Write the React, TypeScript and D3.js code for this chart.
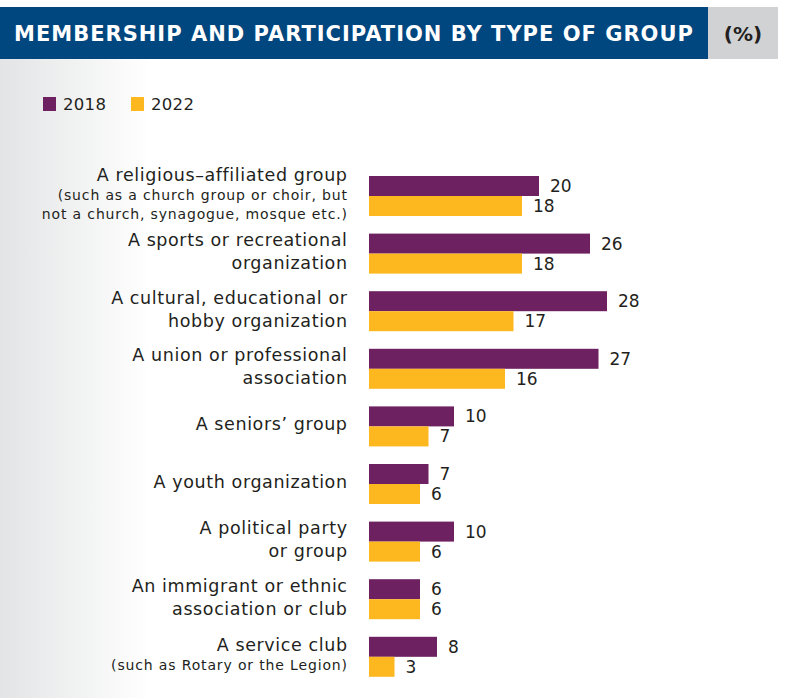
import React from 'react';
import * as d3 from 'd3';

const categories = [
  'religious',
  'sports',
  'cultural',
  'union',
  'seniors',
  'youth',
  'political',
  'immigrant',
  'service',
];

const mainLines = [
  ['A religious–affiliated group'],
  ['A sports or recreational', 'organization'],
  ['A cultural, educational or', 'hobby organization'],
  ['A union or professional', 'association'],
  ['A seniors’ group'],
  ['A youth organization'],
  ['A political party', 'or group'],
  ['An immigrant or ethnic', 'association or club'],
  ['A service club'],
];

const subLines = [
  ['(such as a church group or choir, but', 'not a church, synagogue, mosque etc.)'],
  [],
  [],
  [],
  [],
  [],
  [],
  [],
  ['(such as Rotary or the Legion)'],
];

const values2018 = [20, 26, 28, 27, 10, 7, 10, 6, 8];
const values2022 = [18, 18, 17, 16, 7, 6, 6, 6, 3];

const seriesNames = ['2018', '2022'];
const seriesColors = ['#6d2160', '#fdb71f'];

const title = 'MEMBERSHIP AND PARTICIPATION BY TYPE OF GROUP';
const unit = '(%)';

const FONT = "'DejaVu Sans', sans-serif";
const TEXT = '#231f20';

export default function App() {
  const width = 790;
  const height = 698;

  const x = d3.scaleLinear().domain([0, 30]).range([369, 369 + 255]);

  const y = d3.scaleBand<string>()
    .domain(categories)
    .range([167.2, 685.6])
    .paddingInner(0.3056)
    .paddingOuter(0.1528);

  const ySub = d3.scaleBand<string>()
    .domain(seriesNames)
    .range([0, y.bandwidth()]);

  const series = [values2018, values2022];

  return (
    <svg
      width={width}
      height={height}
      style={{ position: 'absolute', top: 0, left: 0, display: 'block' }}
      fontFamily={FONT}
    >
      <defs>
        <linearGradient id="leftFade" x1="0" x2="1" y1="0" y2="0">
          <stop offset="0%" stopColor="#e3e4e5" />
          <stop offset="100%" stopColor="#ffffff" />
        </linearGradient>
      </defs>
      <rect x={0} y={0} width={width} height={height} fill="#fff" />
      <rect x={0} y={59} width={150} height={height - 59} fill="url(#leftFade)" />

      {/* title bar */}
      <rect x={0} y={7} width={708} height={52} fill="#00467f" />
      <rect x={708} y={7} width={70} height={52} fill="#d1d2d4" />
      <text x={14} y={41} fill="#fff" fontSize={21} fontWeight={700} letterSpacing={1}>{title}</text>
      <text x={743} y={41} fill={TEXT} fontSize={20} fontWeight={700} textAnchor="middle">{unit}</text>

      {/* legend */}
      {seriesNames.map((s, i) => (
        <g key={s} transform={`translate(${43 + i * 88},97)`}>
          <rect width={13} height={14} fill={seriesColors[i]} />
          <text x={20} y={13} fontSize={16.5} fill={TEXT} letterSpacing={0.3}>{s}</text>
        </g>
      ))}

      {/* category labels */}
      {categories.map((c, i) => {
        const center = (y(c) as number) + y.bandwidth() / 2;
        const lines = [
          ...mainLines[i].map((t) => ({ t, size: 17.5, gap: 23, ls: 0.6 })),
          ...subLines[i].map((t) => ({ t, size: 14, gap: 19, ls: 0.85 })),
        ];
        const span = lines.slice(1).reduce((a, l) => a + l.gap, 0);
        let base = center - span / 2 + 4;
        return (
          <g key={c}>
            {lines.map((l, j) => {
              if (j > 0) base += l.gap;
              return (
                <text
                  key={j}
                  x={347 + l.ls}
                  y={base}
                  fontSize={l.size}
                  letterSpacing={l.ls}
                  textAnchor="end"
                  fill={TEXT}
                >
                  {l.t}
                </text>
              );
            })}
          </g>
        );
      })}

      {/* bars */}
      {series.map((vals, si) => (
        <g key={seriesNames[si]}>
          {categories.map((c, i) => {
            const by = (y(c) as number) + (ySub(seriesNames[si]) as number);
            return (
              <g key={c}>
                <rect
                  x={x(0)}
                  y={by}
                  width={x(vals[i]) - x(0)}
                  height={ySub.bandwidth()}
                  fill={seriesColors[si]}
                />
                <text
                  x={x(vals[i]) + 11}
                  y={by + ySub.bandwidth() / 2 + 6}
                  fontSize={17}
                  fill={TEXT}
                >
                  {vals[i]}
                </text>
              </g>
            );
          })}
        </g>
      ))}
    </svg>
  );
}
